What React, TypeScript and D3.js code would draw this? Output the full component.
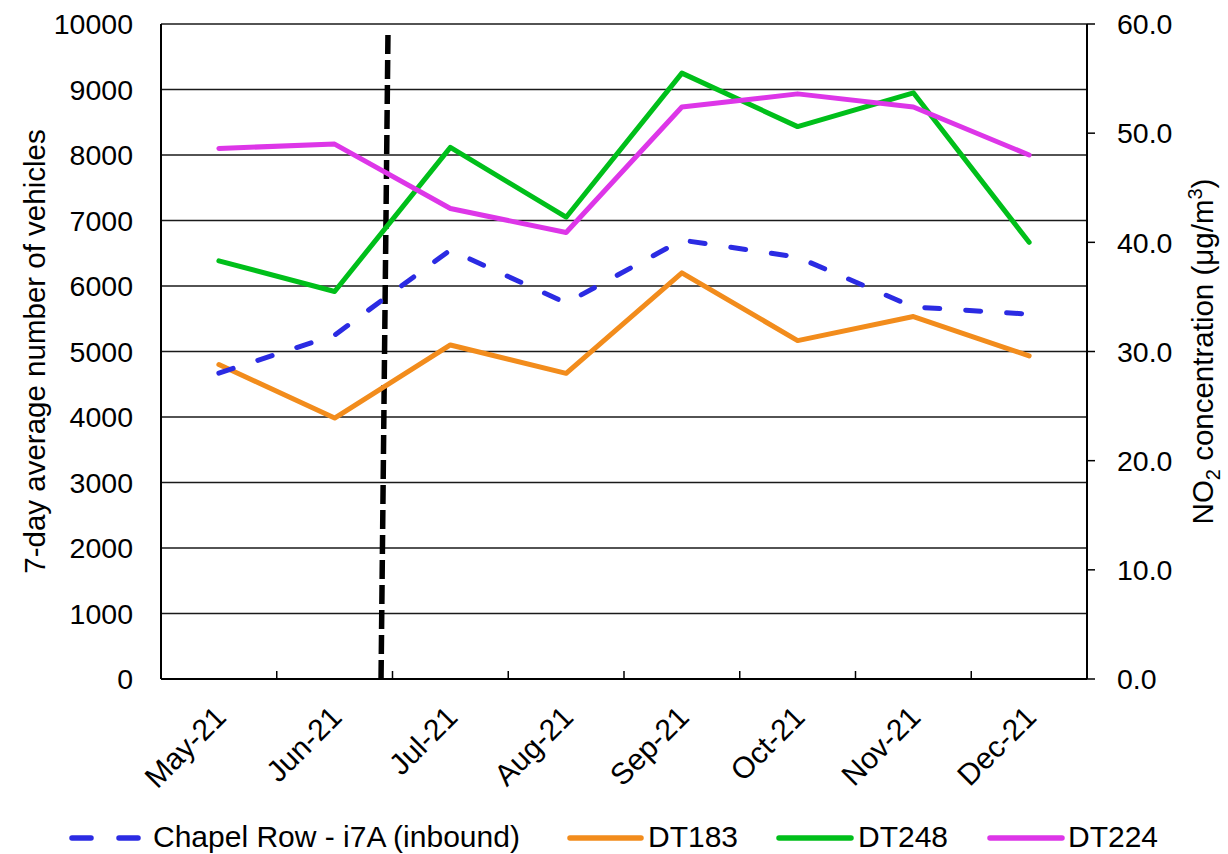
import React, { useEffect } from 'react';
import * as d3 from 'd3';

const months = ['May-21', 'Jun-21', 'Jul-21', 'Aug-21', 'Sep-21', 'Oct-21', 'Nov-21', 'Dec-21'];
const chapelRow = [4670, 5250, 6550, 5740, 6700, 6440, 5680, 5570];
const dt183 = [28.8, 23.9, 30.6, 28.0, 37.2, 31.0, 33.2, 29.6];
const dt248 = [38.3, 35.5, 48.7, 42.3, 55.5, 50.6, 53.7, 40.0];
const dt224 = [48.6, 49.0, 43.1, 40.9, 52.4, 53.6, 52.4, 48.0];
const leftTicks = [0, 1000, 2000, 3000, 4000, 5000, 6000, 7000, 8000, 9000, 10000];
const rightTicks = [0, 10, 20, 30, 40, 50, 60];
const markerLine = [
  { pos: 1.401, value: 0 },
  { pos: 1.461, value: 9878 },
];

const W = 1228;
const H = 854;
const M = { left: 161, right: 1087, top: 24, bottom: 679 };
const FONT = 'Liberation Sans, Arial, Helvetica, sans-serif';

const BLUE = '#2B2BE3';
const ORANGE = '#F28C1C';
const GREEN = '#00BF1A';
const MAGENTA = '#DD36E8';

export default function App() {
  useEffect(() => {
    document.body.style.margin = '0';
  }, []);

  const xBand = d3.scaleBand<string>().domain(months).range([M.left, M.right]).padding(0);
  const xLin = d3.scaleLinear().domain([-0.5, months.length - 0.5]).range([M.left, M.right]);
  const yL = d3.scaleLinear().domain([0, 10000]).range([M.bottom, M.top]);
  const yR = d3.scaleLinear().domain([0, 60]).range([M.bottom, M.top]);
  const cx = (m: string) => (xBand(m) as number) + xBand.bandwidth() / 2;

  const lineL = d3.line<number>().x((_, i) => cx(months[i])).y((d) => yL(d));
  const lineR = d3.line<number>().x((_, i) => cx(months[i])).y((d) => yR(d));
  const markerPath = d3
    .line<{ pos: number; value: number }>()
    .x((d) => xLin(d.pos))
    .y((d) => yL(d.value))(markerLine);

  const boundaries = d3.range(0, months.length + 1).map((i) => M.left + i * xBand.bandwidth());

  const legendY = 838;
  const legendItems = [
    { label: 'Chapel Row - i7A (inbound)', color: BLUE, x1: 72, x2: 139, tx: 153, dash: '19 28' },
    { label: 'DT183', color: ORANGE, x1: 570, x2: 641, tx: 648, dash: '' },
    { label: 'DT248', color: GREEN, x1: 779, x2: 851, tx: 858, dash: '' },
    { label: 'DT224', color: MAGENTA, x1: 990, x2: 1062, tx: 1068, dash: '' },
  ];

  return (
    <svg width={W} height={H} style={{ display: 'block' }} fontFamily={FONT}>
      <rect x={0} y={0} width={W} height={H} fill="#fff" />
      {leftTicks.map((t) => (
        <line key={'g' + t} x1={M.left} x2={M.right} y1={yL(t)} y2={yL(t)} stroke="#1a1a1a" strokeWidth={1.5} />
      ))}
      <line x1={M.left} x2={M.left} y1={M.top} y2={M.bottom} stroke="#000" strokeWidth={2} />
      <line x1={M.right} x2={M.right} y1={M.top} y2={M.bottom} stroke="#000" strokeWidth={2} />
      <line x1={M.left} x2={M.right} y1={M.bottom} y2={M.bottom} stroke="#000" strokeWidth={2} />
      {boundaries.map((b, i) => (
        <line key={'xt' + i} x1={b} x2={b} y1={M.bottom} y2={M.bottom - 8} stroke="#000" strokeWidth={1.5} />
      ))}
      {rightTicks.map((t) => (
        <line key={'rt' + t} x1={M.right} x2={M.right + 8} y1={yR(t)} y2={yR(t)} stroke="#000" strokeWidth={1.5} />
      ))}
      {leftTicks.map((t) => (
        <text key={'lt' + t} x={133} y={yL(t)} dy="0.36em" textAnchor="end" fontSize={28.5} fill="#000">
          {t}
        </text>
      ))}
      {rightTicks.map((t) => (
        <text key={'rl' + t} x={1117} y={yR(t)} dy="0.36em" textAnchor="start" fontSize={28.5} fill="#000">
          {t.toFixed(1)}
        </text>
      ))}
      {months.map((m) => (
        <text
          key={'xl' + m}
          transform={`translate(${cx(m) + 9},${719}) rotate(-45)`}
          textAnchor="end"
          fontSize={30}
          fill="#000"
        >
          {m}
        </text>
      ))}
      <text transform={`translate(45,${(M.top + M.bottom) / 2}) rotate(-90)`} textAnchor="middle" fontSize={29.5} fill="#000">
        7-day average number of vehicles
      </text>
      <text transform={`translate(1213,${(M.top + M.bottom) / 2}) rotate(-90)`} textAnchor="middle" fontSize={29.5} fill="#000">
        NO
        <tspan dy={7} fontSize={20}>2</tspan>
        <tspan dy={-7}> concentration (μg/m</tspan>
        <tspan dy={-11} fontSize={20}>3</tspan>
        <tspan dy={11}>)</tspan>
      </text>
      <path d={markerPath || ''} fill="none" stroke="#000" strokeWidth={5.5} strokeDasharray="19 6" />
      <path d={lineR(dt183) || ''} fill="none" stroke={ORANGE} strokeWidth={5} strokeLinejoin="round" strokeLinecap="round" />
      <path d={lineR(dt248) || ''} fill="none" stroke={GREEN} strokeWidth={5} strokeLinejoin="round" strokeLinecap="round" />
      <path d={lineR(dt224) || ''} fill="none" stroke={MAGENTA} strokeWidth={5} strokeLinejoin="round" strokeLinecap="round" />
      <path
        d={lineL(chapelRow) || ''}
        fill="none"
        stroke={BLUE}
        strokeWidth={5}
        strokeLinejoin="round"
        strokeLinecap="round"
        strokeDasharray="15 26"
      />
      {legendItems.map((it) => (
        <g key={it.label}>
          <line
            x1={it.x1}
            x2={it.x2}
            y1={legendY}
            y2={legendY}
            stroke={it.color}
            strokeWidth={5.5}
            strokeLinecap="round"
            strokeDasharray={it.dash || undefined}
          />
          <text x={it.tx} y={legendY + 9} fontSize={30} fill="#000">
            {it.label}
          </text>
        </g>
      ))}
    </svg>
  );
}
